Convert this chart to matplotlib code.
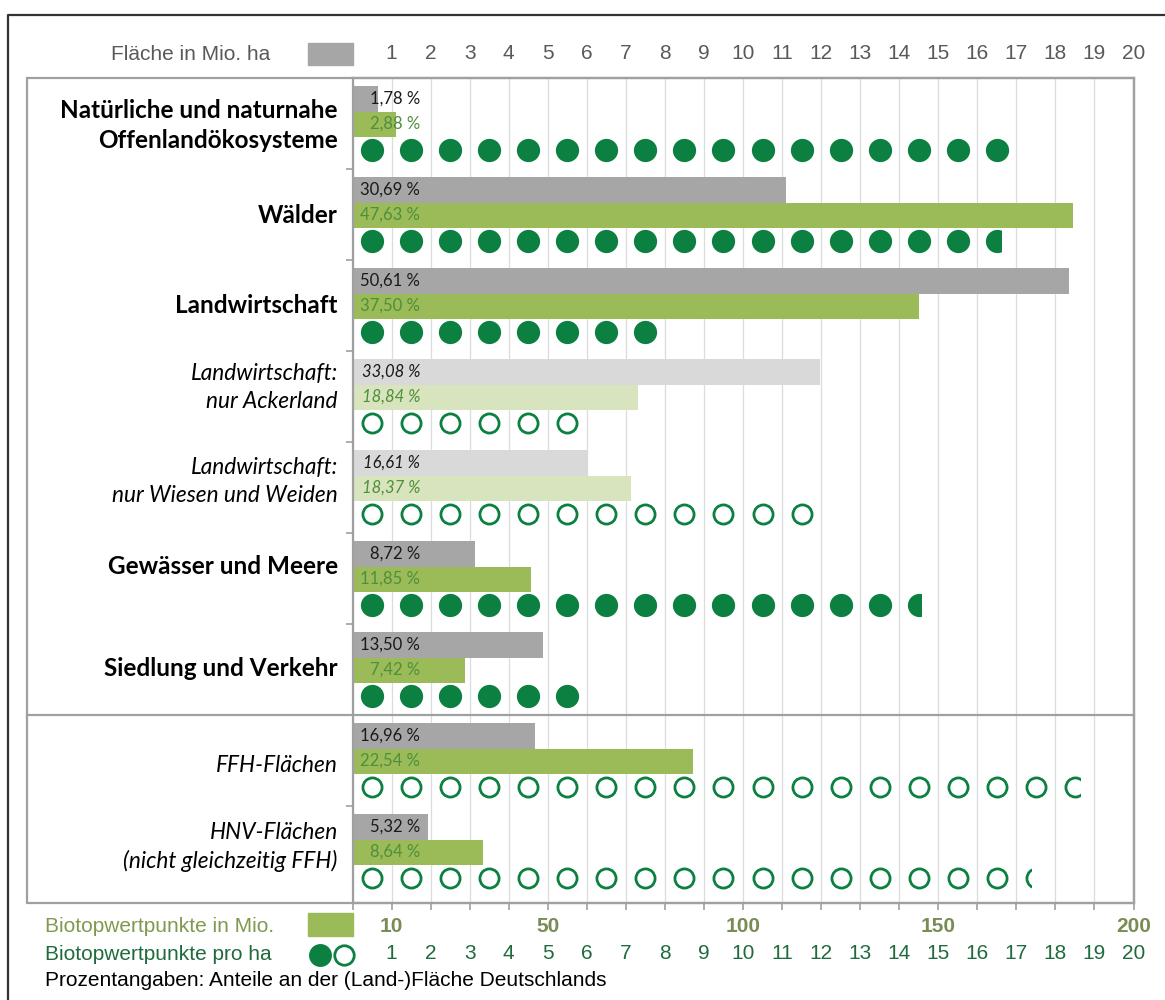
import math
import matplotlib
matplotlib.use("Agg")
import matplotlib.pyplot as plt
import matplotlib.transforms as mtransforms
from matplotlib.patches import Rectangle
from matplotlib.lines import Line2D

plt.rcParams['font.family'] = ['Liberation Sans', 'DejaVu Sans']

categories = [
    "Natürliche und naturnahe\nOffenlandökosysteme",
    "Wälder",
    "Landwirtschaft",
    "Landwirtschaft:\nnur Ackerland",
    "Landwirtschaft:\nnur Wiesen und Weiden",
    "Gewässer und Meere",
    "Siedlung und Verkehr",
    "FFH-Flächen",
    "HNV-Flächen\n(nicht gleichzeitig FFH)",
]
# Fläche in Mio. ha
area_mio_ha = [0.645, 11.10, 18.35, 11.98, 6.04, 3.14, 4.88, 4.68, 1.93]
# Biotopwertpunkte in Mio.
points_mio = [11.1, 184.6, 145.1, 73.0, 71.2, 45.7, 28.8, 87.2, 33.4]
# Biotopwertpunkte pro ha
points_per_ha = [17, 16.6, 8, 6, 12, 14.55, 6, 18.62, 17.37]
area_pct = [1.78, 30.69, 50.61, 33.08, 16.61, 8.72, 13.50, 16.96, 5.32]
points_pct = [2.88, 47.63, 37.50, 18.84, 18.37, 11.85, 7.42, 22.54, 8.64]

ha_ticks = list(range(1, 21))
mio_ticks = [10, 50, 100, 150, 200]

# row styles
bold_rows = [True, True, True, False, False, True, True, False, False]
light_rows = [False, False, False, True, True, False, False, False, False]
open_dots = [False, False, False, True, True, False, False, True, True]
label_y = [0.52, 0.51, 0.50, 0.40, 0.43, 0.37, 0.49, 0.55, 0.45]

GREY = '#a6a6a6'
GREY_LIGHT = '#d9d9d9'
GREEN = '#9bbb59'
GREEN_LIGHT = '#d7e4bd'
DOT = '#0b8040'
LINE = '#a0a0a0'
NUM_FS = 15

W, H = 1165, 1000
fig = plt.figure(figsize=(W / 100, H / 100), dpi=100)


def fx(x):
    return x / W


def fy(y):
    return 1 - y / H


ax = fig.add_axes([fx(352.5), fy(903), fx(1133.5) - fx(352.5), fy(78) - fy(903)])
ax.set_xlim(0, 20)
ax.set_ylim(825 / 91, 0)
ax.set_axisbelow(True)

ax.set_xticks(range(0, 21))
ax.set_xticklabels([''] + [str(t) for t in ha_ticks], color='#595959', fontsize=NUM_FS)
ax.tick_params(axis='x', bottom=True, top=False, labelbottom=False, labeltop=True,
               direction='out', length=5, width=1.2, color=LINE, pad=6)
ax.set_yticks([1, 2, 3, 4, 5, 6, 8])
ax.set_yticklabels([])
ax.tick_params(axis='y', left=True, direction='out', length=5, width=1.2, color=LINE)
ax.grid(axis='x', color='#dcdcdc', lw=0.9)
for s in ax.spines.values():
    s.set_color(LINE)
    s.set_linewidth(1.6)

for i in range(len(categories)):
    grey = GREY_LIGHT if light_rows[i] else GREY
    green = GREEN_LIGHT if light_rows[i] else GREEN
    ax.barh(i + 0.23, area_mio_ha[i], height=0.28, color=grey, zorder=2)
    ax.barh(i + 0.507, points_mio[i] / 10, height=0.275, color=green, zorder=2)

    style = 'italic' if light_rows[i] else 'normal'
    ax.text(1.73, i + 0.225, f"{area_pct[i]:.2f} %".replace('.', ','),
            ha='right', va='center', fontsize=12, family='Lato',
            style=style, color='#1a1a1a', zorder=3)
    ax.text(1.73, i + 0.505, f"{points_pct[i]:.2f} %".replace('.', ','),
            ha='right', va='center', fontsize=12, family='Lato',
            style=style, color='#4f8f3a', zorder=3)

    # one dot per Biotopwertpunkt/ha, the last one cut at the value
    v = points_per_ha[i]
    n = math.ceil(v)
    xs = [k - 0.5 for k in range(1, n + 1)]
    ys = [i + 0.79] * n
    if open_dots[i]:
        sc = ax.scatter(xs, ys, s=190, facecolor='white', edgecolor=DOT,
                        linewidth=2.0, zorder=4)
    else:
        sc = ax.scatter(xs, ys, s=280, color=DOT, linewidth=0, zorder=4)
    sc.set_clip_path(Rectangle((-1, -1), v + 1, 20, transform=ax.transData))

    lab_w = 'bold' if bold_rows[i] else 'normal'
    lab_s = 'normal' if bold_rows[i] else 'italic'
    fs = 17.5 if bold_rows[i] else 16.3
    ax.text(-0.38, i + label_y[i], categories[i], ha='right', va='center',
            family='Lato', fontsize=fs, fontweight=lab_w, style=lab_s,
            linespacing=1.4, color='black')

# bottom scales
bt = mtransforms.blended_transform_factory(ax.transData, ax.transAxes)
for t in mio_ticks:
    ax.text(t / 10, -0.0285, str(t), transform=bt, ha='center', va='center',
            fontsize=NUM_FS, fontweight='bold', color='#7a8c55')
for t in ha_ticks:
    ax.text(t, -0.0618, str(t), transform=bt, ha='center', va='center',
            fontsize=NUM_FS, color='#1f6b3c')

# label panel, separator and outer frame
fig.add_artist(Rectangle((fx(27), fy(903)), fx(1134) - fx(27), fy(78) - fy(903),
                         transform=fig.transFigure, fill=False, edgecolor=LINE, lw=1.6))
fig.add_artist(Line2D([fx(27), fx(1134)], [fy(715), fy(715)], transform=fig.transFigure,
                      color=LINE, lw=1.6))
fig.add_artist(Line2D([fx(8), fx(8), fx(1170)], [fy(1005), fy(15), fy(15)],
                      transform=fig.transFigure, color='#333333', lw=1.6))

# legend entries
fig.text(fx(111), fy(55), "Fläche in Mio. ha", ha='left', va='center',
         fontsize=15, color='#595959')
fig.add_artist(Rectangle((fx(308), fy(65)), fx(45), fy(0) - fy(22),
                         transform=fig.transFigure, color=GREY))
fig.text(fx(45), fy(927), "Biotopwertpunkte in Mio.", ha='left', va='center',
         fontsize=15, color='#7f9a4e')
fig.add_artist(Rectangle((fx(308), fy(936)), fx(45), fy(0) - fy(23),
                         transform=fig.transFigure, color=GREEN))
fig.text(fx(45), fy(955), "Biotopwertpunkte pro ha", ha='left', va='center',
         fontsize=15, color='#1f6b3c')
fig.add_artist(Line2D([fx(320)], [fy(955)], transform=fig.transFigure, marker='o',
                      markersize=16.5, markerfacecolor=DOT, markeredgewidth=0, ls='none'))
fig.add_artist(Line2D([fx(344)], [fy(955)], transform=fig.transFigure, marker='o',
                      markersize=14, markerfacecolor='white', markeredgecolor=DOT,
                      markeredgewidth=2.0, ls='none'))
fig.text(fx(45), fy(981), "Prozentangaben: Anteile an der (Land-)Fläche Deutschlands",
         ha='left', va='center', fontsize=15, color='black')

fig.savefig('out.png', dpi=100)
